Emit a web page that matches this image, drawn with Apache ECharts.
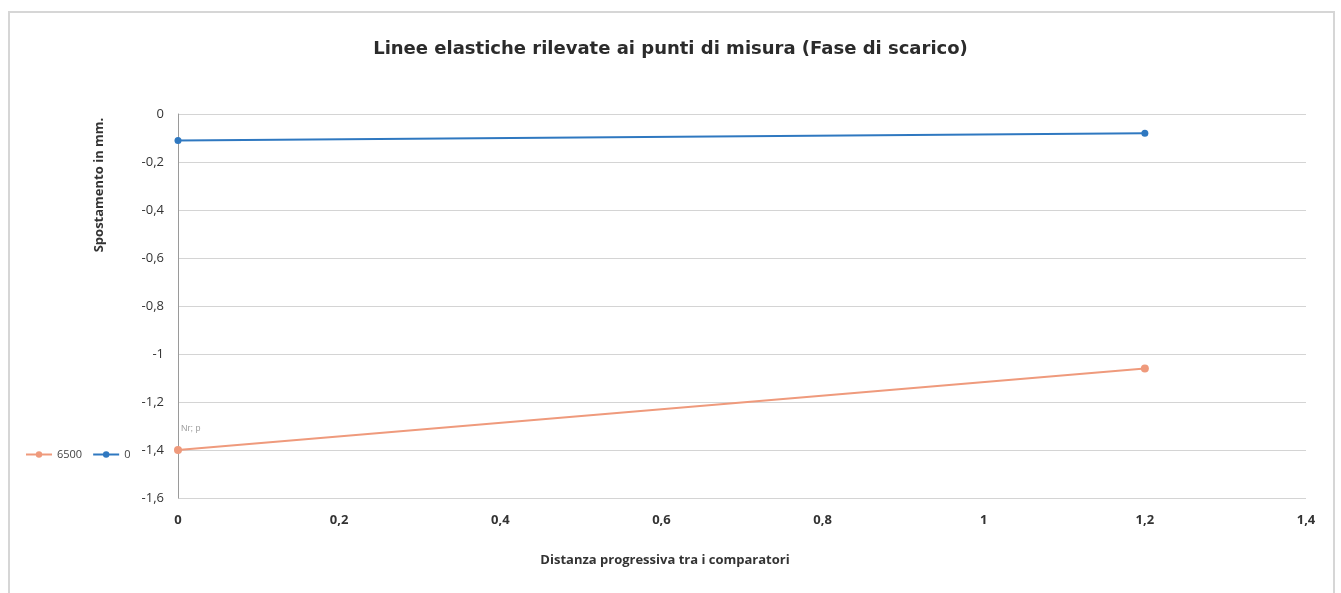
<!DOCTYPE html>
<html>
<head>
<meta charset="utf-8">
<script src="https://cdn.jsdelivr.net/npm/echarts@6/dist/echarts.min.js"></script>
<style>html,body{margin:0;padding:0;background:#fff}#c{width:1341px;height:593px}</style>
</head>
<body>
<div id="c"></div>
<script>
const xValues = [0, 1.2];
const series6500 = [-1.40, -1.06];
const series0 = [-0.11, -0.08];
const seriesNames = ['6500', '0'];
const titleText = 'Linee elastiche rilevate ai punti di misura (Fase di scarico)';
const xAxisTitle = 'Distanza progressiva tra i comparatori';
const yAxisTitle = 'Spostamento in mm.';

function fmt(v){ const r = Math.round(v*10)/10; return r === 0 ? '0' : String(r).replace('.', ','); }

const chart = echarts.init(document.getElementById('c'));
chart.setOption({
  backgroundColor: '#fff',
  animation: false,
  textStyle: { fontFamily: 'Open Sans' },
  title: {
    text: titleText, left: 'center', top: 35,
    textStyle: { fontFamily: 'DejaVu Sans', fontWeight: 'bold', fontSize: 18, color: '#2b2b2b' }
  },
  legend: {
    left: 20, top: 444, itemGap: 10, itemWidth: 26, itemHeight: 8,
    textStyle: { fontSize: 11, color: '#444' },
    data: seriesNames
  },
  grid: { left: 178, right: 35, top: 114, bottom: 95 },
  xAxis: {
    type: 'value', min: 0, max: 1.4, interval: 0.2,
    name: xAxisTitle, nameLocation: 'middle', nameGap: 56,
    nameTextStyle: { fontWeight: 'bold', fontSize: 13, color: '#333', padding: [0, 154, 0, 0] },
    axisLine: { show: false }, axisTick: { show: false },
    axisLabel: { formatter: fmt, margin: 16, fontSize: 13, color: '#333', fontWeight: 'bold' },
    splitLine: { show: false }
  },
  yAxis: {
    type: 'value', min: -1.6, max: 0, interval: 0.2,
    name: yAxisTitle, nameLocation: 'middle', nameGap: 72, nameRotate: 90,
    nameTextStyle: { fontWeight: 'bold', fontSize: 13, color: '#333', padding: [0, 0, 0, 242] },
    axisLine: { show: true, onZero: false, lineStyle: { color: '#9a9a9a' } },
    axisTick: { show: false },
    axisLabel: { formatter: fmt, margin: 14, fontSize: 13, color: '#333' },
    splitLine: { show: true, lineStyle: { color: '#d4d4d4' } }
  },
  graphic: [
    { type: 'rect', shape: { x: 9, y: 12, width: 1325, height: 585 }, style: { fill: 'none', stroke: '#d6d6d6', lineWidth: 2 }, silent: true },
    { type: 'text', left: 181, top: 424, style: { text: 'Nr; p', fontSize: 9, fill: '#a0a0a0' }, silent: true }
  ],
  series: [
    {
      name: seriesNames[0], type: 'line',
      data: xValues.map((x, i) => [x, series6500[i]]),
      symbol: 'circle', symbolSize: 8,
      itemStyle: { color: '#ef9a7c' }, lineStyle: { color: '#ef9a7c', width: 2 }
    },
    {
      name: seriesNames[1], type: 'line',
      data: xValues.map((x, i) => [x, series0[i]]),
      symbol: 'circle', symbolSize: 7,
      itemStyle: { color: '#2f78c0' }, lineStyle: { color: '#2f78c0', width: 2 }
    }
  ]
});
</script>
</body>
</html>
